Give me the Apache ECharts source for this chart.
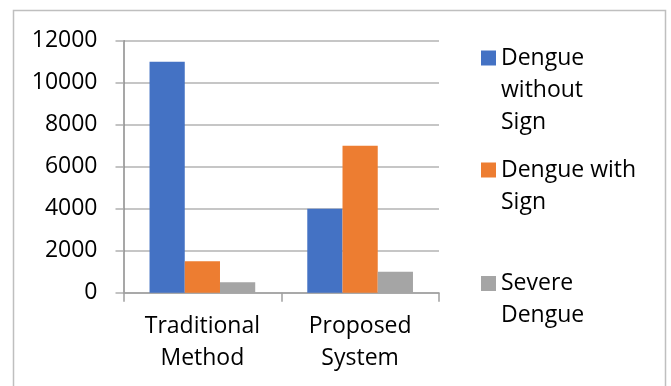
<!DOCTYPE html>
<html>
<head>
<meta charset="utf-8">
<script src="https://cdn.jsdelivr.net/npm/echarts@6/dist/echarts.min.js"></script>
<style>
  html, body { margin: 0; padding: 0; background: #fff; }
  #chart { width: 671px; height: 386px; }
</style>
</head>
<body>
<div id="chart"></div>
<script>
var categories = ['Traditional\nMethod', 'Proposed\nSystem']
var seriesNames = ['Dengue without Sign', 'Dengue with Sign', 'Severe Dengue']
var legendLabels = ['Dengue\nwithout\nSign', 'Dengue with\nSign', 'Severe\nDengue']
var withoutSign = [11000, 4000]
var withSign = [1500, 7000]
var severe = [500, 1000]
var colors = ['#4472C4', '#ED7D31', '#A5A5A5']

var chart = echarts.init(document.getElementById('chart'))
var font = '"Open Sans", sans-serif'
var fontSize = 23
var lineH = 32

// one legend per item; blank lines on top push the first text line level with the icon
function makeLegend(i, top) {
  var lines = legendLabels[i].split('\n').length
  var pad = new Array(lines).join('\n')
  return {
    data: [seriesNames[i]],
    left: 481,
    top: top,
    padding: 0,
    icon: 'rect',
    itemWidth: 15,
    itemHeight: 15,
    selectedMode: false,
    formatter: function () { return pad + legendLabels[i] },
    textStyle: {
      fontFamily: font,
      fontSize: fontSize,
      color: '#000',
      lineHeight: lineH
    }
  }
}

chart.setOption({
  animation: false,
  color: colors,
  graphic: [{
    type: 'rect',
    shape: { x: 13.5, y: 10.5, width: 652, height: 400 },
    style: { fill: 'none', stroke: '#bfbfbf', lineWidth: 1.5 },
    silent: true
  }],
  legend: [makeLegend(0, -22), makeLegend(1, 122), makeLegend(2, 235.5)],
  grid: { left: 123.5, right: 232, top: 40.7, bottom: 93.3, containLabel: false },
  xAxis: {
    type: 'category',
    data: categories,
    axisLine: { lineStyle: { color: '#a0a0a0', width: 1.5 } },
    axisTick: { show: true, length: 9, lineStyle: { color: '#a0a0a0', width: 1.5 } },
    axisLabel: {
      fontFamily: font,
      fontSize: fontSize,
      color: '#000',
      lineHeight: 32,
      margin: 18
    }
  },
  yAxis: {
    type: 'value',
    min: 0,
    max: 12000,
    interval: 2000,
    axisLine: { show: true, lineStyle: { color: '#8a8a8a', width: 1.5 } },
    axisTick: { show: true, length: 8, lineStyle: { color: '#b0b0b0', width: 1.5 } },
    splitLine: { lineStyle: { color: '#b3b3b3', width: 1.5 } },
    axisLabel: {
      fontFamily: font,
      fontSize: fontSize,
      color: '#000',
      margin: 26,
      formatter: function (v) { return String(v) }
    }
  },
  series: [
    { name: seriesNames[0], type: 'bar', data: withoutSign, barGap: '0%', barCategoryGap: '33%' },
    { name: seriesNames[1], type: 'bar', data: withSign, barGap: '0%', barCategoryGap: '33%' },
    { name: seriesNames[2], type: 'bar', data: severe, barGap: '0%', barCategoryGap: '33%' }
  ]
})
</script>
</body>
</html>
